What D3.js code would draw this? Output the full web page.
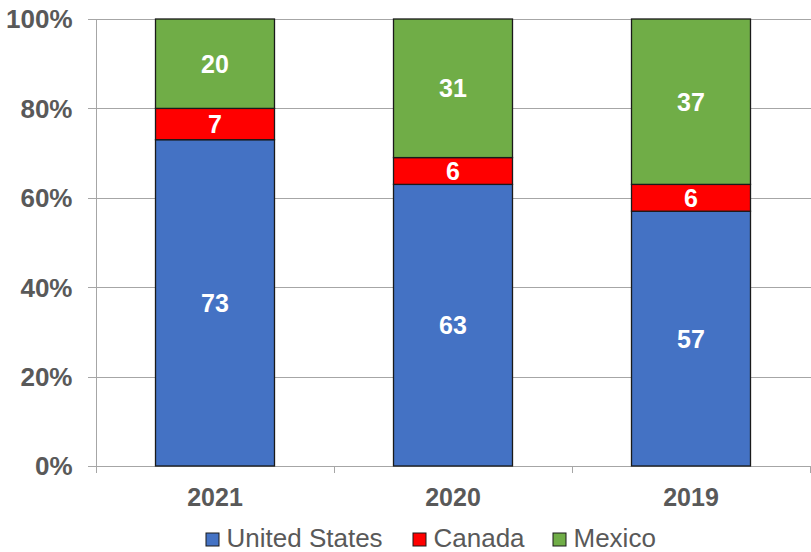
<!DOCTYPE html>
<html>
<head>
<meta charset="utf-8">
<script src="https://cdn.jsdelivr.net/npm/d3@7"></script>
<style>
  html, body { margin: 0; padding: 0; background: #fff; }
  svg { display: block; font-family: Arial, "Liberation Sans", sans-serif; }
</style>
</head>
<body>
<svg id="chart" width="811" height="552"></svg>
<script>
// Share of respondents by country, per year (percent)
const years = ["2021", "2020", "2019"];
const seriesNames = ["United States", "Canada", "Mexico"];
const unitedStates = [73, 63, 57];
const canada = [7, 6, 6];
const mexico = [20, 31, 37];
const yTicks = [0, 20, 40, 60, 80, 100];
const colors = ["#4472C4", "#FF0000", "#70AD47"];

const rows = years.map((y, i) => ({
  year: y,
  "United States": unitedStates[i],
  "Canada": canada[i],
  "Mexico": mexico[i]
}));

const svg = d3.select("#chart");
const plotLeft = 96, plotRight = 810, plotTop = 19, plotBottom = 466;

const x = d3.scaleBand().domain(years).range([plotLeft, plotRight])
  .paddingInner(0.5).paddingOuter(0.25);
const y = d3.scaleLinear().domain([0, 100]).range([plotBottom, plotTop]);

// horizontal gridlines
svg.append("g")
  .selectAll("line")
  .data(yTicks)
  .join("line")
  .attr("x1", plotLeft - 8).attr("x2", plotRight + 1)
  .attr("y1", d => Math.round(y(d)) + 0.5)
  .attr("y2", d => Math.round(y(d)) + 0.5)
  .attr("stroke", "#A6A6A6").attr("stroke-width", 1);

// y axis line
svg.append("line")
  .attr("x1", plotLeft + 0.5).attr("x2", plotLeft + 0.5)
  .attr("y1", plotTop).attr("y2", plotBottom + 6)
  .attr("stroke", "#A6A6A6");

// category separator ticks below baseline
const seps = [plotLeft, plotLeft + x.step(), plotLeft + 2 * x.step(), plotRight];
svg.append("g").selectAll("line")
  .data(seps)
  .join("line")
  .attr("x1", d => Math.round(d) + 0.5).attr("x2", d => Math.round(d) + 0.5)
  .attr("y1", plotBottom).attr("y2", plotBottom + 7)
  .attr("stroke", "#A6A6A6");

// y tick labels
svg.append("g").selectAll("text")
  .data(yTicks)
  .join("text")
  .attr("x", 72.5)
  .attr("y", d => y(d))
  .attr("dy", "0.36em")
  .attr("text-anchor", "end")
  .attr("font-size", 26)
  .attr("font-weight", "bold")
  .attr("fill", "#595959")
  .text(d => d + "%");

// x labels
svg.append("g").selectAll("text")
  .data(years)
  .join("text")
  .attr("x", d => x(d) + x.bandwidth() / 2)
  .attr("y", 505.5)
  .attr("text-anchor", "middle")
  .attr("font-size", 25)
  .attr("font-weight", "bold")
  .attr("fill", "#595959")
  .text(d => d);

// stacked bars
const stack = d3.stack().keys(seriesNames)(rows);
const layers = svg.append("g").selectAll("g")
  .data(stack)
  .join("g")
  .attr("fill", (d, i) => colors[i]);

layers.selectAll("rect")
  .data(d => d)
  .join("rect")
  .attr("x", d => x(d.data.year))
  .attr("y", d => y(d[1]))
  .attr("width", x.bandwidth())
  .attr("height", d => y(d[0]) - y(d[1]))
  .attr("stroke", "#1a1a1a")
  .attr("stroke-width", 1.3);

// value labels
layers.selectAll("text")
  .data(d => d.map(v => ({ v, key: d.key })))
  .join("text")
  .attr("x", d => x(d.v.data.year) + x.bandwidth() / 2)
  .attr("y", d => (y(d.v[0]) + y(d.v[1])) / 2)
  .attr("dy", "0.36em")
  .attr("text-anchor", "middle")
  .attr("font-size", 25)
  .attr("font-weight", "bold")
  .attr("fill", "#fff")
  .text(d => d.v.data[d.key]);

// legend
const legendX = [206, 413, 553];
const legend = svg.append("g").selectAll("g")
  .data(seriesNames)
  .join("g")
  .attr("transform", (d, i) => `translate(${legendX[i]},533)`);
legend.append("rect")
  .attr("width", 13).attr("height", 13)
  .attr("fill", (d, i) => colors[i])
  .attr("stroke", "#1a1a1a").attr("stroke-width", 1);
legend.append("text")
  .attr("x", 20.5).attr("y", 13.5)
  .attr("font-size", 26)
  .attr("fill", "#595959")
  .text(d => d);
</script>
</body>
</html>
